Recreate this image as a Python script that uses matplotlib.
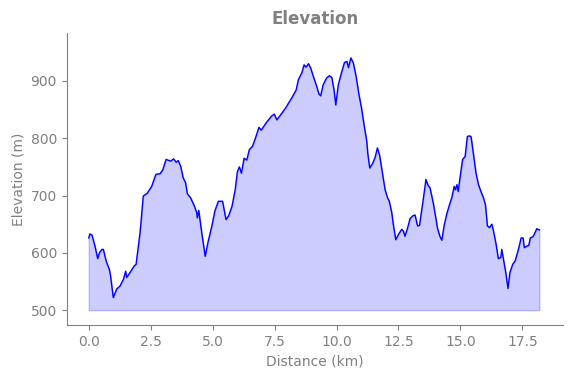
import matplotlib
matplotlib.use("Agg")
import matplotlib.pyplot as plt

distance_km = [0.00, 0.05, 0.13, 0.25, 0.36, 0.43, 0.53, 0.59, 0.70, 0.83, 0.88, 0.99,
               1.13, 1.26, 1.40, 1.49, 1.53, 1.67, 1.83, 1.91, 2.07, 2.20, 2.36, 2.54,
               2.71, 2.88, 2.99, 3.12, 3.31, 3.42, 3.53, 3.61, 3.71, 3.81, 3.91, 3.98,
               4.11, 4.25, 4.36, 4.38, 4.44, 4.56, 4.70, 4.81, 4.97, 5.09, 5.23, 5.40,
               5.54, 5.65, 5.78, 5.91, 6.00, 6.08, 6.16, 6.27, 6.38, 6.48, 6.61, 6.75,
               6.87, 6.96, 7.18, 7.39, 7.49, 7.59, 7.75, 7.95, 8.19, 8.37, 8.46, 8.60,
               8.69, 8.77, 8.87, 8.96, 9.07, 9.21, 9.29, 9.36, 9.46, 9.60, 9.71, 9.81,
               9.90, 9.97, 10.07, 10.20, 10.32, 10.42, 10.48, 10.58, 10.68, 10.79, 10.89,
               11.01, 11.13, 11.22, 11.26, 11.34, 11.46, 11.56, 11.65, 11.74, 11.83,
               11.96, 12.06, 12.13, 12.23, 12.29, 12.39, 12.50, 12.63, 12.70, 12.76,
               12.86, 12.97, 13.09, 13.17, 13.27, 13.35, 13.49, 13.61, 13.70, 13.77,
               13.90, 14.02, 14.07, 14.17, 14.25, 14.34, 14.45, 14.56, 14.65, 14.75,
               14.80, 14.86, 14.91, 15.01, 15.09, 15.19, 15.28, 15.36, 15.43, 15.52,
               15.63, 15.73, 15.82, 15.93, 16.01, 16.09, 16.17, 16.27, 16.35, 16.44,
               16.53, 16.63, 16.67, 16.76, 16.84, 16.92, 17.00, 17.11, 17.21, 17.30,
               17.36, 17.45, 17.53, 17.58, 17.69, 17.76, 17.82, 17.92, 17.98, 18.08, 18.19]

elevation_m = [626, 633, 631, 612, 590, 600, 606, 606, 586, 571, 560, 522,
               537, 542, 554, 568, 557, 566, 577, 580, 635, 699, 704, 716,
               737, 738, 745, 763, 760, 764, 758, 761, 751, 731, 722, 703,
               696, 683, 670, 661, 674, 635, 594, 618, 647, 673, 690, 690,
               658, 665, 681, 710, 742, 750, 739, 765, 762, 780, 786, 803,
               819, 814, 828, 839, 842, 832, 841, 853, 870, 884, 902, 914,
               928, 924, 930, 922, 907, 889, 877, 874, 893, 905, 909, 906,
               884, 858, 893, 914, 932, 934, 923, 940, 931, 908, 880,
               852, 818, 795, 774, 748, 756, 767, 783, 770, 745,
               710, 696, 690, 670, 650, 623, 632, 641, 638, 629,
               642, 660, 665, 666, 647, 648, 690, 728, 717, 714,
               688, 658, 644, 629, 622, 647, 668, 684, 696, 716,
               710, 719, 707, 739, 763, 768, 803, 804, 803, 774,
               739, 719, 708, 696, 684, 647, 644, 650, 635, 615,
               590, 592, 606, 583, 563, 538, 566, 580, 586, 600,
               609, 626, 626, 609, 612, 613, 626, 628, 632, 642, 640]

fill_base = 500
gray = "#808080"

fig = plt.figure(figsize=(5.71, 3.78), dpi=100)
ax = fig.add_axes([0.1168, 0.140, 0.8687, 0.7735])

ax.plot(distance_km, elevation_m, color="blue", linewidth=1)
ax.fill_between(distance_km, elevation_m, fill_base, color="blue", alpha=0.2)

ax.set_xlim(-0.89, 19.13)
ax.set_ylim(474, 984)
ax.set_xticks([0, 2.5, 5, 7.5, 10, 12.5, 15, 17.5])
ax.set_yticks([500, 600, 700, 800, 900])

ax.set_title("Elevation", color=gray, fontsize=12, fontweight="bold")
ax.set_xlabel("Distance (km)", color=gray)
ax.set_ylabel("Elevation (m)", color=gray)

for s in ["top", "right"]:
    ax.spines[s].set_visible(False)
for s in ["left", "bottom"]:
    ax.spines[s].set_color(gray)
ax.tick_params(colors=gray)

fig.savefig("out.png", dpi=100)
